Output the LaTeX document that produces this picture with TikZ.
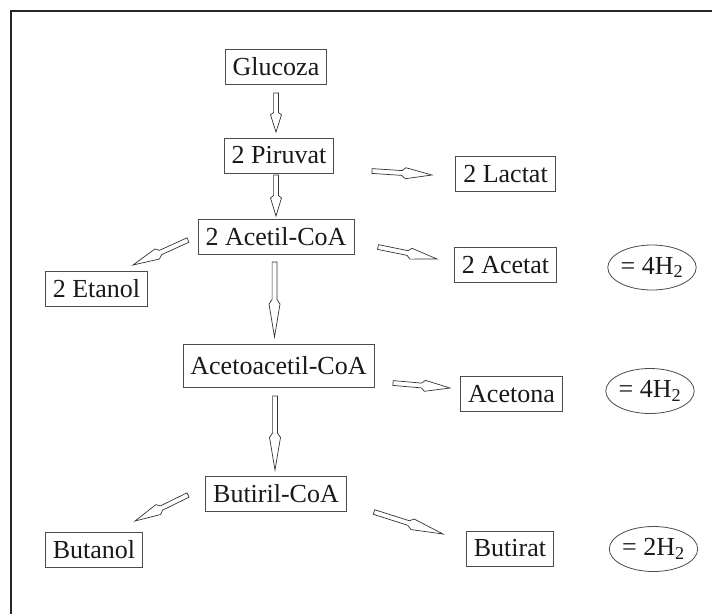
\documentclass[tikz,border=0pt]{standalone}
\usepackage{fontspec}
\setmainfont{Liberation Serif}
\usetikzlibrary{calc,shapes.geometric}

\newcommand{\labelfont}{\fontsize{26}{30}\selectfont}

% hollow block arrow from #1 to #2: narrow shaft, slim pointed head
\newcommand{\flowarrow}[2]{%
  \coordinate (fa-m) at ($(#1)!0.50!(#2)$);
  \coordinate (fa-h) at ($(#1)!0.56!(#2)$);
  \draw[hollow]
    ($(#1)!2.4pt!90:(#2)$) -- ($(fa-m)!2.4pt!90:(#2)$) -- ($(fa-h)!5.5pt!90:(#2)$) -- (#2)
    -- ($(fa-h)!5.5pt!-90:(#2)$) -- ($(fa-m)!2.4pt!-90:(#2)$) -- ($(#1)!2.4pt!-90:(#2)$) -- cycle;}

\tikzset{
  stepbox/.style={draw=black!70, line width=0.8pt, inner xsep=7.5pt, inner ysep=0pt,
    minimum height=35pt, font=\labelfont, text=black!90},
  gasbubble/.style={ellipse, draw=black!70, line width=0.8pt, inner sep=0pt,
    minimum width=77pt, minimum height=45pt, font=\labelfont, text=black!90},
  hollow/.style={draw=black!80, line width=0.7pt, fill=white, line join=miter},
}

\begin{document}
\begin{tikzpicture}[x=1pt, y=-1pt]
  \useasboundingbox (0,0) rectangle (712,614);
  \fill[white] (0,0) rectangle (712,614);

  % frame edges
  \draw[line width=1.6pt, black!85] (11,614) -- (11,11) -- (712,11);

  % main chain
  \node[stepbox] (glucoza) at (276,66.5) {Glucoza};
  \node[stepbox] (piruvat) at (279,155.5) {2 Piruvat};
  \node[stepbox] (acetil) at (276,237) {2 Acetil-CoA};
  \node[stepbox, minimum height=43pt] (acetoacetil) at (278.5,365.5) {Acetoacetil-CoA};
  \node[stepbox] (butiril) at (276,494) {Butiril-CoA};

  % side products
  \node[stepbox] (lactat) at (505.5,174) {2 Lactat};
  \node[stepbox] (acetat) at (505.5,265) {2 Acetat};
  \node[stepbox] (etanol) at (96.5,289) {2 Etanol};
  \node[stepbox] (acetona) at (511.5,394) {Acetona};
  \node[stepbox] (butirat) at (510,548.5) {Butirat};
  \node[stepbox] (butanol) at (94,550) {Butanol};

  % hydrogen yields
  \node[gasbubble] (hacetat) at (652,267.5) {= 4H\textsubscript{2}};
  \node[gasbubble] (hacetona) at (650,391) {= 4H\textsubscript{2}};
  \node[gasbubble] (hbutirat) at (653.5,549) {= 2H\textsubscript{2}};

  % arrow end points
  \coordinate (glu-out) at (276,93);   \coordinate (pir-in) at (276,132);
  \coordinate (pir-out) at (276,175);  \coordinate (ace-in) at (276,216);
  \coordinate (ace-out) at (274.5,262); \coordinate (aca-in) at (274.5,337);
  \coordinate (aca-out) at (275,396);  \coordinate (but-in) at (275,470);
  \coordinate (pir-r) at (372,171);    \coordinate (lac-in) at (432,175);
  \coordinate (ace-r) at (378,247);    \coordinate (act-in) at (437,259);
  \coordinate (ace-l) at (188,240);    \coordinate (eta-in) at (133,265);
  \coordinate (aca-r) at (393,383);    \coordinate (acn-in) at (450,388);
  \coordinate (but-l) at (188,495);    \coordinate (bol-in) at (135,521);
  \coordinate (but-r) at (374,512);    \coordinate (brt-in) at (443,534);

  \flowarrow{glu-out}{pir-in}
  \flowarrow{pir-out}{ace-in}
  \flowarrow{ace-out}{aca-in}
  \flowarrow{aca-out}{but-in}
  \flowarrow{pir-r}{lac-in}
  \flowarrow{ace-r}{act-in}
  \flowarrow{ace-l}{eta-in}
  \flowarrow{aca-r}{acn-in}
  \flowarrow{but-l}{bol-in}
  \flowarrow{but-r}{brt-in}
\end{tikzpicture}
\end{document}
